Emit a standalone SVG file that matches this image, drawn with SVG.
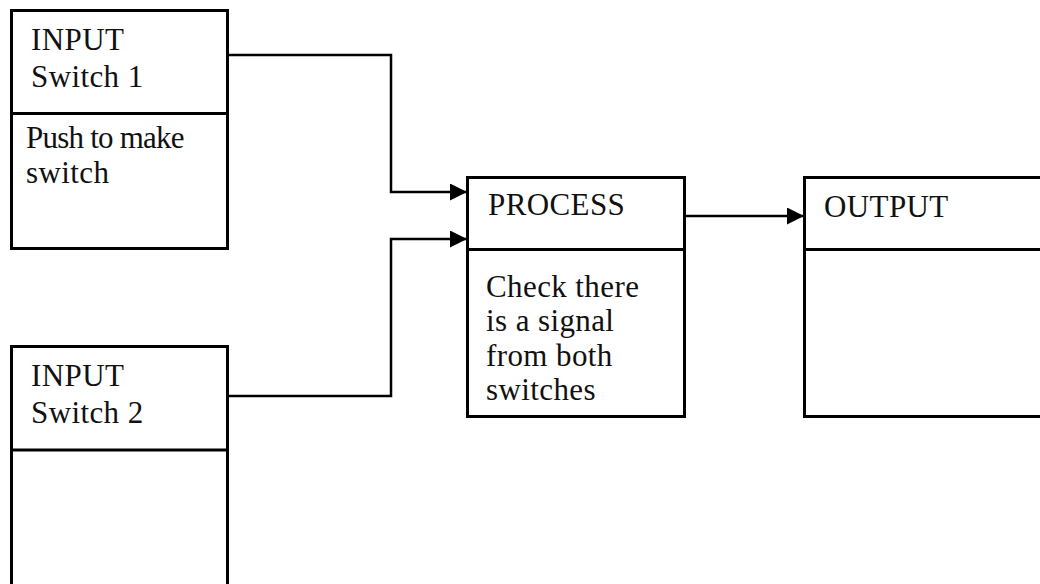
<svg xmlns="http://www.w3.org/2000/svg" width="1040" height="584" viewBox="0 0 1040 584">
  <style>
    .box { fill: #fff; stroke: #000; stroke-width: 3; }
    .div { stroke: #000; stroke-width: 3; }
    .wire { fill: none; stroke: #000; stroke-width: 2.5; }
    .lbl { font-family: "Liberation Serif", "Times New Roman", serif; font-size: 31px; letter-spacing: 0.4px; fill: #111; }
  </style>
  <defs>
    <marker id="arrow" viewBox="0 0 16 16" refX="16" refY="8" markerWidth="17" markerHeight="17" markerUnits="userSpaceOnUse" orient="auto">
      <path d="M0,0 L16,8 L0,16 Z" fill="#000"/>
    </marker>
  </defs>
  <rect width="1040" height="584" fill="#fff"/>

  <g id="connectors">
    <path class="wire" d="M227,55 H391 V192 H467" marker-end="url(#arrow)"/>
    <path class="wire" d="M227,396 H391 V239 H467" marker-end="url(#arrow)"/>
    <path class="wire" d="M685,216 H804" marker-end="url(#arrow)"/>
  </g>

  <g id="input1">
    <rect class="box" x="11.5" y="10.5" width="216" height="238"/>
    <line class="div" x1="11.5" y1="113.5" x2="227.5" y2="113.5"/>
    <text class="lbl" x="31" y="50">INPUT</text>
    <text class="lbl" x="31" y="87">Switch 1</text>
    <text class="lbl" x="26" y="148" textLength="159" lengthAdjust="spacing">Push to make</text>
    <text class="lbl" x="26" y="183">switch</text>
  </g>

  <g id="input2">
    <rect class="box" x="11.5" y="346.5" width="216" height="250"/>
    <line class="div" x1="11.5" y1="450" x2="227.5" y2="450"/>
    <text class="lbl" x="31" y="386">INPUT</text>
    <text class="lbl" x="31" y="423">Switch 2</text>
  </g>

  <g id="process">
    <rect class="box" x="467.5" y="177.5" width="217" height="239"/>
    <line class="div" x1="467.5" y1="249.5" x2="684.5" y2="249.5"/>
    <text class="lbl" x="488" y="215">PROCESS</text>
    <text class="lbl" x="486" y="297">Check there</text>
    <text class="lbl" x="486" y="331">is a signal</text>
    <text class="lbl" x="486" y="366">from both</text>
    <text class="lbl" x="486" y="400">switches</text>
  </g>

  <g id="output">
    <rect class="box" x="804.5" y="177.5" width="260" height="239"/>
    <line class="div" x1="804.5" y1="249.5" x2="1064" y2="249.5"/>
    <text class="lbl" x="824" y="217">OUTPUT</text>
  </g>
</svg>
